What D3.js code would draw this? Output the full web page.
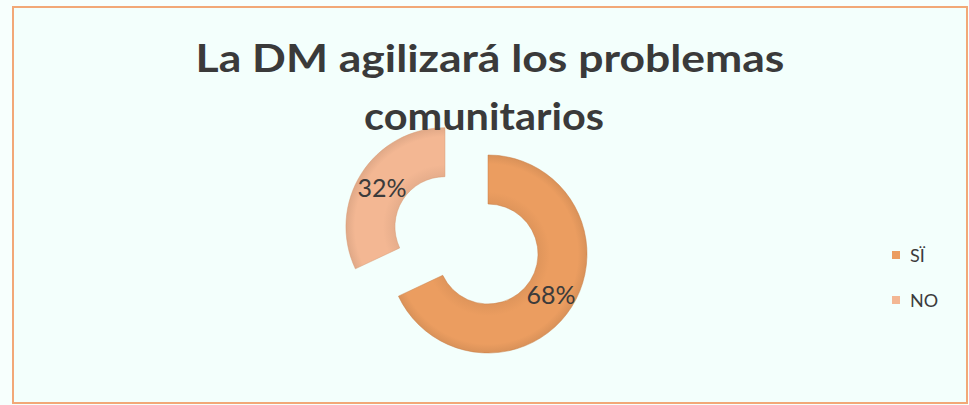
<!DOCTYPE html>
<html>
<head>
<meta charset="utf-8">
<script src="https://cdn.jsdelivr.net/npm/d3@7"></script>
<style>
  html, body { margin: 0; padding: 0; background: #f7fffd; }
  svg { display: block; }
</style>
</head>
<body>
<svg id="chart" width="969" height="405"></svg>
<script>
// Survey answers: share of respondents
const categories = ["SÏ", "NO"];
const values = [68, 32];
const labels = ["68%", "32%"];
const titleLines = ["La DM agilizará los problemas", "comunitarios"];
const titleWidths = [589, 240];
const colors = ["#eb9d60", "#f3b793"];
const edgeColors = ["#c97c44", "#d69870"];

const svg = d3.select("#chart");
const W = 969, H = 405;

// frame
svg.append("rect")
  .attr("x", 0).attr("y", 0).attr("width", W).attr("height", H)
  .attr("fill", "#f7fffd");
svg.append("rect")
  .attr("x", 13).attr("y", 7).attr("width", 954).attr("height", 396)
  .attr("fill", "#f3fffc")
  .attr("stroke", "#f2a877").attr("stroke-width", 2);

// gradients for a soft bevelled look
const defs = svg.append("defs");
colors.forEach((c, i) => {
  const g = defs.append("radialGradient")
    .attr("id", "grad" + i)
    .attr("gradientUnits", "userSpaceOnUse")
    .attr("cx", 0).attr("cy", 0).attr("r", 100);
  g.append("stop").attr("offset", "0.5").attr("stop-color", d3.color(c).darker(0.15));
  g.append("stop").attr("offset", "0.62").attr("stop-color", c);
  g.append("stop").attr("offset", "0.9").attr("stop-color", c);
  g.append("stop").attr("offset", "1").attr("stop-color", d3.color(c).darker(0.25));
});

// donut
const cx = 488, cy = 254;
const outerR = 99, innerR = 50;
const explode = [0, 51];

const pie = d3.pie().sort(null).value(d => d)(values);
const arc = d3.arc().innerRadius(innerR).outerRadius(outerR);

const g = svg.append("g").attr("transform", `translate(${cx},${cy})`);
const slices = g.selectAll("g.slice").data(pie).enter().append("g")
  .attr("class", "slice")
  .attr("transform", (d, i) => {
    const a = (d.startAngle + d.endAngle) / 2;
    return `translate(${Math.sin(a) * explode[i]},${-Math.cos(a) * explode[i]})`;
  });

slices.append("path")
  .attr("d", arc)
  .attr("fill", (d, i) => `url(#grad${i})`)
  .attr("stroke", (d, i) => edgeColors[i])
  .attr("stroke-width", 0.8)
  .attr("stroke-opacity", 0.6);

slices.append("text")
  .attr("transform", d => `translate(${arc.centroid(d)})`)
  .attr("text-anchor", "middle")
  .attr("dominant-baseline", "central")
  .attr("font-family", "Lato, 'Open Sans', sans-serif")
  .attr("font-size", 25)
  .attr("fill", "#3b3b3b")
  .text((d, i) => labels[i]);

// title, each line widened to its set width
const titleG = svg.append("g");
titleLines.forEach((line, i) => {
  const t = titleG.append("text")
    .attr("text-anchor", "middle")
    .attr("font-family", "Lato, 'Open Sans', sans-serif")
    .attr("font-weight", "bold")
    .attr("font-size", 39)
    .attr("fill", "#3a3a3a")
    .text(line);
  const w = t.node().getComputedTextLength();
  const sx = titleWidths[i] / w;
  const x = i === 0 ? 490 : 484;
  const y = i === 0 ? 72 : 130;
  t.attr("transform", `translate(${x},${y}) scale(${sx},1)`);
});

// legend
const legend = svg.append("g").selectAll("g").data(categories).enter().append("g")
  .attr("transform", (d, i) => `translate(892,${251 + i * 45})`);
legend.append("rect")
  .attr("width", 8).attr("height", 8)
  .attr("fill", (d, i) => colors[i]);
legend.append("text")
  .attr("x", 18).attr("y", 4)
  .attr("dominant-baseline", "central")
  .attr("font-family", "Lato, 'Open Sans', sans-serif")
  .attr("font-size", 18)
  .attr("fill", "#3b3b3b")
  .text(d => d);
</script>
</body>
</html>
